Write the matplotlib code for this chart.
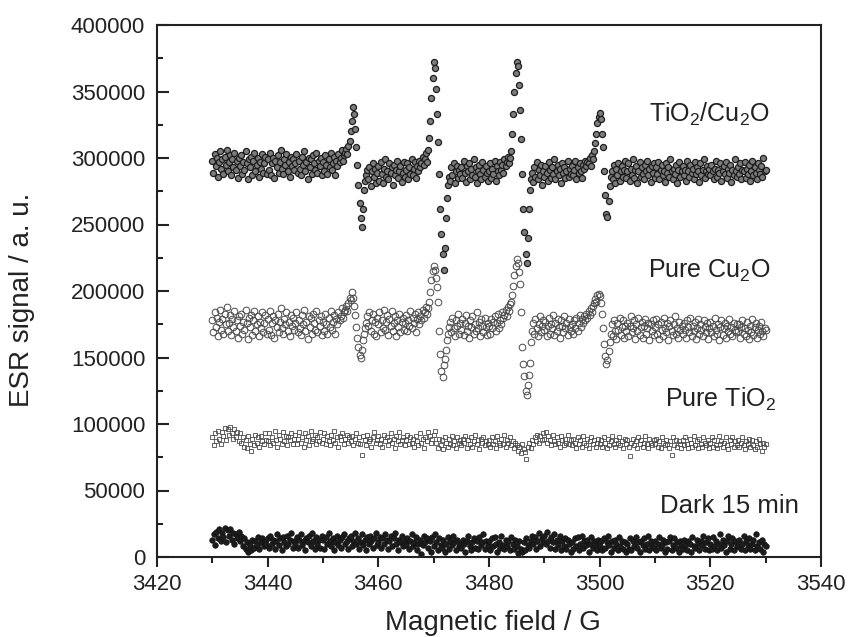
import numpy as np
import matplotlib
matplotlib.use("Agg")
import matplotlib.pyplot as plt
from matplotlib.ticker import MultipleLocator, FormatStrFormatter

plt.rcParams['font.family'] = ['Liberation Sans', 'DejaVu Sans']
plt.rcParams['mathtext.default'] = 'regular'

# field sweep 3430-3530 G; each row of a series spans 5 G,
# points evenly spaced inside the row
field_start = 3430
row_span = 5

# signals in units of 1000 a.u.
tio2_cu2o = [
    [298, 289, 303, 294, 300, 286, 297, 305, 292, 299, 288, 301, 295, 306, 290, 297, 302, 287, 299, 293, 304, 291, 298, 285, 300],
    [294, 302, 288, 297, 291, 305, 296, 284, 299, 293, 301, 287, 298, 304, 290, 295, 300, 286, 297, 292, 303, 289, 296, 301, 288],
    [299, 291, 304, 287, 296, 300, 285, 298, 293, 302, 289, 297, 306, 292, 288, 299, 295, 303, 290, 297, 286, 301, 294, 299, 291],
    [296, 303, 289, 298, 292, 287, 301, 295, 305, 290, 297, 284, 300, 293, 299, 288, 302, 296, 291, 304, 289, 298, 294, 300, 287],
    [297, 290, 302, 295, 288, 299, 293, 304, 291, 296, 301, 287, 298, 294, 303, 297, 300, 306, 298, 302, 304, 307, 303, 309, 313],
    [320, 328, 338, 333, 322, 308, 295, 280, 266, 255, 248, 262, 276, 283, 287, 291, 284, 293, 279, 290, 296, 286, 292, 281, 289],
    [294, 283, 297, 288, 281, 292, 299, 286, 290, 284, 296, 289, 293, 280, 295, 287, 291, 298, 285, 290, 294, 282, 289, 297, 286],
    [291, 296, 284, 293, 288, 299, 287, 292, 297, 285, 294, 290, 298, 293, 296, 301, 295, 299, 304, 297, 306, 315, 328, 345, 360],
    [372, 368, 352, 333, 312, 288, 262, 243, 228, 216, 232, 255, 270, 280, 286, 283, 293, 287, 296, 281, 290, 294, 285, 291, 288],
    [293, 285, 298, 289, 282, 294, 290, 296, 284, 292, 287, 299, 286, 293, 281, 290, 295, 288, 284, 297, 291, 286, 294, 289, 283],
    [290, 296, 285, 292, 288, 298, 283, 294, 290, 287, 297, 291, 295, 289, 299, 294, 297, 301, 296, 300, 305, 318, 333, 350, 364],
    [372, 369, 355, 336, 314, 288, 262, 244, 228, 221, 240, 262, 276, 284, 289, 282, 293, 286, 297, 284, 291, 287, 295, 280, 290],
    [286, 294, 289, 283, 297, 291, 285, 293, 288, 299, 284, 290, 295, 287, 292, 281, 296, 289, 293, 285, 290, 298, 286, 292, 288],
    [294, 287, 291, 298, 284, 293, 289, 296, 290, 285, 295, 292, 298, 294, 297, 296, 300, 294, 302, 299, 305, 311, 318, 326, 331],
    [334, 329, 318, 308, 290, 272, 258, 256, 268, 279, 286, 290, 284, 295, 281, 292, 287, 296, 283, 290, 294, 286, 291, 298, 285],
    [290, 296, 283, 292, 287, 299, 285, 291, 294, 281, 290, 297, 286, 293, 288, 284, 295, 290, 298, 287, 292, 282, 294, 289, 296],
    [285, 293, 288, 297, 284, 291, 295, 287, 290, 282, 296, 289, 293, 286, 299, 290, 284, 292, 288, 295, 281, 291, 297, 286, 290],
    [294, 287, 291, 283, 298, 290, 286, 295, 289, 292, 284, 297, 288, 293, 290, 282, 296, 287, 291, 299, 285, 290, 294, 288, 292],
    [287, 295, 290, 284, 292, 298, 286, 291, 289, 296, 283, 290, 294, 288, 297, 285, 292, 289, 295, 282, 291, 287, 299, 290, 286],
    [293, 288, 296, 284, 291, 290, 297, 285, 292, 288, 295, 283, 290, 298, 287, 293, 289, 284, 296, 291, 288, 294, 286, 300, 290],
    [291],
]

pure_cu2o = [
    [178, 169, 184, 173, 180, 166, 177, 186, 171, 179, 168, 183, 175, 188, 170, 176, 182, 167, 179, 173, 185, 170, 178, 165, 181],
    [174, 183, 168, 177, 171, 186, 176, 164, 180, 173, 182, 167, 178, 185, 170, 175, 181, 166, 177, 172, 184, 169, 176, 182, 168],
    [179, 171, 185, 167, 176, 181, 165, 178, 173, 183, 169, 177, 187, 172, 168, 179, 175, 184, 170, 177, 166, 182, 174, 180, 171],
    [176, 184, 169, 178, 172, 167, 182, 175, 186, 170, 177, 164, 181, 173, 180, 168, 183, 176, 171, 185, 169, 178, 174, 181, 167],
    [177, 170, 183, 175, 168, 180, 173, 185, 171, 177, 182, 168, 179, 175, 184, 178, 181, 187, 180, 184, 186, 189, 185, 191, 195],
    [193, 199, 195, 189, 182, 173, 165, 158, 152, 150, 156, 163, 168, 172, 176, 181, 174, 184, 170, 178, 183, 168, 177, 166, 180],
    [175, 184, 169, 178, 172, 186, 171, 177, 182, 167, 179, 174, 185, 170, 176, 181, 166, 178, 173, 183, 169, 177, 180, 171, 176],
    [182, 170, 178, 174, 185, 172, 180, 176, 183, 169, 179, 184, 175, 181, 178, 186, 180, 184, 188, 183, 187, 192, 199, 208, 215],
    [219, 216, 210, 203, 192, 170, 153, 140, 135, 144, 149, 156, 163, 168, 173, 177, 169, 180, 172, 166, 178, 174, 183, 168, 176],
    [171, 179, 167, 176, 182, 170, 174, 165, 178, 173, 181, 168, 175, 170, 184, 172, 177, 166, 179, 174, 169, 180, 173, 167, 176],
    [174, 168, 179, 172, 177, 181, 170, 176, 183, 172, 178, 175, 184, 180, 182, 186, 181, 188, 185, 190, 192, 197, 204, 212, 219],
    [224, 221, 214, 205, 184, 158, 145, 136, 125, 122, 129, 137, 146, 162, 170, 176, 168, 179, 172, 166, 175, 181, 169, 174, 178],
    [171, 177, 166, 174, 180, 168, 175, 172, 182, 167, 176, 170, 179, 173, 165, 178, 174, 169, 181, 172, 176, 167, 179, 173, 170],
    [175, 168, 178, 172, 180, 170, 176, 182, 173, 179, 176, 181, 178, 183, 180, 185, 182, 187, 184, 189, 191, 194, 192, 197, 198],
    [196, 191, 183, 172, 160, 151, 145, 148, 155, 162, 168, 175, 166, 178, 170, 164, 176, 171, 180, 167, 173, 178, 165, 174, 170],
    [176, 166, 174, 181, 169, 172, 178, 164, 175, 170, 180, 167, 173, 177, 165, 174, 179, 168, 172, 176, 163, 175, 170, 178, 167],
    [173, 179, 168, 175, 164, 177, 171, 166, 180, 172, 169, 176, 163, 174, 178, 170, 167, 175, 181, 168, 172, 165, 177, 171, 174],
    [168, 176, 171, 165, 178, 173, 169, 180, 166, 174, 170, 177, 164, 172, 179, 168, 175, 171, 166, 178, 173, 169, 176, 164, 172],
    [177, 169, 174, 166, 180, 171, 168, 175, 163, 173, 178, 167, 172, 176, 165, 174, 170, 179, 168, 173, 166, 176, 171, 169, 175],
    [170, 175, 165, 173, 178, 168, 172, 166, 177, 171, 164, 174, 169, 179, 167, 173, 176, 165, 171, 174, 168, 177, 170, 166, 172],
    [171],
]

pure_tio2 = [
    [90, 84, 93, 87, 95, 89, 85, 94, 91, 97, 88, 96, 92, 98, 93, 89, 96, 90, 94, 87],
    [93, 86, 90, 83, 88, 82, 91, 85, 80, 89, 84, 92, 86, 90, 83, 91, 87, 85, 93, 88],
    [87, 93, 84, 90, 86, 95, 88, 83, 92, 89, 85, 94, 87, 91, 84, 90, 88, 93, 85, 89],
    [92, 85, 89, 94, 86, 90, 83, 93, 88, 91, 84, 95, 87, 89, 92, 85, 90, 87, 94, 86],
    [89, 93, 85, 91, 87, 84, 92, 88, 95, 86, 90, 83, 91, 88, 93, 85, 89, 92, 86, 90],
    [87, 91, 84, 89, 93, 86, 90, 85, 77, 91, 88, 84, 92, 87, 89, 83, 90, 94, 86, 88],
    [91, 85, 89, 83, 92, 87, 90, 84, 88, 93, 86, 89, 82, 91, 87, 94, 85, 88, 90, 84],
    [88, 92, 85, 90, 86, 89, 83, 91, 87, 84, 93, 86, 89, 82, 90, 87, 94, 91, 86, 89],
    [92, 95, 86, 82, 89, 84, 88, 81, 90, 86, 83, 89, 85, 91, 84, 87, 82, 90, 86, 88],
    [84, 89, 86, 91, 82, 88, 85, 90, 83, 87, 92, 85, 88, 81, 89, 86, 90, 84, 87, 85],
    [88, 83, 90, 85, 87, 82, 91, 86, 84, 89, 85, 92, 83, 88, 86, 90, 84, 87, 82, 86],
    [84, 80, 83, 78, 85, 81, 79, 74, 83, 86, 82, 88, 85, 90, 87, 92, 86, 91, 88, 93],
    [89, 94, 86, 91, 88, 84, 92, 87, 85, 90, 86, 83, 91, 88, 84, 89, 86, 92, 85, 88],
    [84, 89, 86, 82, 90, 85, 88, 83, 91, 86, 84, 89, 82, 87, 90, 85, 88, 83, 86, 89],
    [85, 88, 83, 90, 86, 82, 89, 84, 87, 91, 85, 83, 88, 86, 90, 84, 87, 82, 89, 85],
    [88, 83, 76, 86, 89, 84, 87, 82, 90, 85, 88, 83, 86, 91, 85, 82, 89, 86, 84, 88],
    [85, 89, 83, 87, 82, 90, 86, 84, 88, 85, 82, 87, 77, 90, 84, 88, 83, 87, 85, 82],
    [88, 84, 90, 85, 82, 89, 86, 83, 91, 84, 87, 82, 89, 85, 83, 90, 86, 84, 88, 82],
    [86, 90, 83, 88, 84, 82, 91, 85, 87, 83, 86, 90, 84, 81, 88, 85, 90, 83, 87, 84],
    [88, 83, 86, 90, 84, 81, 87, 85, 89, 83, 88, 84, 81, 87, 83, 89, 85, 80, 86, 83],
    [85],
]

dark_15min = [
    [13, 17, 9, 19, 14, 21, 12, 18, 15, 22, 11, 20, 16, 21, 13, 18, 10, 17, 14, 19],
    [12, 16, 8, 14, 6, 11, 4, 9, 5, 13, 7, 12, 9, 15, 6, 11, 14, 8, 12, 10],
    [14, 7, 16, 10, 13, 6, 12, 17, 9, 14, 5, 15, 11, 8, 16, 10, 13, 18, 7, 12],
    [10, 15, 7, 13, 17, 9, 12, 5, 14, 11, 16, 8, 18, 12, 6, 15, 10, 13, 7, 16],
    [13, 6, 15, 10, 18, 12, 8, 14, 5, 11, 16, 9, 13, 7, 15, 17, 10, 12, 6, 14],
    [16, 8, 12, 18, 10, 14, 6, 11, 17, 9, 13, 5, 15, 10, 16, 12, 7, 14, 18, 9],
    [11, 15, 7, 14, 10, 17, 13, 6, 12, 16, 8, 14, 18, 10, 5, 13, 11, 16, 8, 12],
    [9, 14, 6, 12, 17, 8, 11, 15, 5, 10, 13, 2, 9, 16, 11, 14, 7, 12, 4, 15],
    [8, 17, 11, 5, 14, 9, 7, 13, 4, 10, 15, 6, 12, 9, 16, 11, 5, 13, 8, 10],
    [7, 13, 10, 4, 12, 16, 8, 5, 11, 14, 7, 12, 6, 15, 9, 11, 17, 6, 12, 9],
    [12, 5, 14, 8, 15, 10, 4, 11, 7, 16, 9, 6, 13, 8, 12, 5, 15, 10, 6, 13],
    [8, 3, 12, 6, 4, 11, 5, 14, 9, 7, 12, 16, 10, 15, 6, 12, 18, 8, 14, 11],
    [16, 10, 19, 12, 7, 15, 11, 17, 6, 13, 9, 16, 5, 12, 8, 14, 6, 13, 10, 4],
    [11, 6, 14, 8, 15, 5, 10, 16, 7, 12, 9, 13, 4, 10, 15, 7, 12, 9, 5, 13],
    [8, 12, 5, 14, 7, 11, 16, 9, 4, 12, 7, 13, 10, 5, 15, 8, 12, 6, 11, 4],
    [10, 6, 14, 5, 12, 8, 15, 7, 11, 4, 12, 9, 14, 6, 10, 16, 5, 12, 8, 7],
    [12, 5, 10, 15, 7, 9, 13, 4, 11, 6, 12, 15, 5, 9, 14, 7, 11, 4, 12, 8],
    [6, 13, 9, 5, 12, 10, 4, 15, 8, 7, 13, 10, 5, 12, 9, 16, 6, 11, 14, 5],
    [10, 6, 15, 8, 12, 5, 10, 17, 7, 13, 9, 4, 12, 16, 6, 10, 14, 5, 12, 8],
    [8, 13, 6, 10, 16, 5, 12, 9, 14, 6, 10, 13, 5, 17, 8, 11, 6, 13, 4, 10],
    [8],
]

labels = [r'TiO$_2$/Cu$_2$O', r'Pure Cu$_2$O', r'Pure TiO$_2$', 'Dark 15 min']


def unpack(rows):
    x, y = [], []
    for r, row in enumerate(rows):
        step = row_span / len(row)
        for c, v in enumerate(row):
            x.append(field_start + row_span * r + step * c)
            y.append(v * 1000)
    return np.array(x), np.array(y)


fig = plt.figure(figsize=(8.48, 6.37), dpi=100)
ax = fig.add_axes([157 / 848, 80 / 637, 664 / 848, 532 / 637])

x, y = unpack(dark_15min)
ax.plot(x, y, 'o', ms=4.0, mfc='#1c1c1c', mec='#111111', mew=0.5)
x, y = unpack(pure_tio2)
ax.plot(x, y, 's', ms=3.2, mfc='none', mec='#4a4a4a', mew=0.6)
x, y = unpack(pure_cu2o)
ax.plot(x, y, 'o', ms=4.8, mfc='none', mec='#4a4a4a', mew=0.7)
x, y = unpack(tio2_cu2o)
ax.plot(x, y, 'o', ms=4.4, mfc='#7c7c7c', mec='#1e1e1e', mew=0.9)

# labels next to each trace
ax.text(3519.8, 327000, labels[0], ha='center', va='baseline', fontsize=18, color='#222222')
ax.text(3519.8, 209800, labels[1], ha='center', va='baseline', fontsize=18, color='#222222')
ax.text(3521.9, 112800, labels[2], ha='center', va='baseline', fontsize=18, color='#222222')
ax.text(3523.4, 33100, labels[3], ha='center', va='baseline', fontsize=18.5, color='#222222')

ax.set_xlim(3420, 3540)
ax.set_ylim(0, 400000)
ax.xaxis.set_major_locator(MultipleLocator(20))
ax.xaxis.set_minor_locator(MultipleLocator(10))
ax.yaxis.set_major_locator(MultipleLocator(50000))
ax.yaxis.set_minor_locator(MultipleLocator(25000))
ax.yaxis.set_major_formatter(FormatStrFormatter('%d'))

for s in ax.spines.values():
    s.set_linewidth(1.5)
    s.set_color('#222222')
ax.tick_params(axis='x', which='both', direction='out', top=False, width=1.5,
               colors='#222222', labelsize=16, pad=5)
ax.tick_params(axis='x', which='major', length=7.5)
ax.tick_params(axis='x', which='minor', length=4.5)
ax.tick_params(axis='y', which='both', direction='in', right=False, width=1.5,
               colors='#222222', labelsize=16, pad=8.5)
ax.tick_params(axis='y', which='major', length=8.5)
ax.tick_params(axis='y', which='minor', length=4.5)

fig.text(22 / 848, 1 - 300 / 637, 'ESR signal / a. u.', rotation=90,
         ha='center', va='center', fontsize=20, color='#222222')
fig.text(493 / 848, 1 - 623 / 637, 'Magnetic field / G',
         ha='center', va='center', fontsize=20, color='#222222')

fig.savefig('out.png', dpi=100)
